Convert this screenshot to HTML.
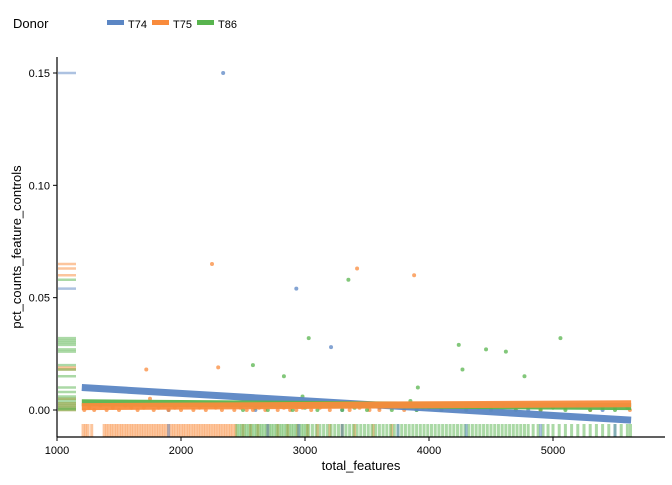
<!DOCTYPE html>
<html><head><meta charset="utf-8">
<style>
body{margin:0;background:#fff;font-family:"Liberation Sans",Arial,sans-serif;}
svg text{font-family:"Liberation Sans",Arial,sans-serif;}
</style></head>
<body>
<svg id="chart" width="672" height="480" xmlns="http://www.w3.org/2000/svg">
<g id="legend">
 <text x="13" y="28" font-size="13" fill="#000">Donor</text>
 <rect x="107" y="20" width="17" height="5" fill="#5b86c4"/>
 <text x="128" y="28" font-size="11">T74</text>
 <rect x="152" y="20" width="17" height="5" fill="#f98b3c"/>
 <text x="173" y="28" font-size="11">T75</text>
 <rect x="197" y="20" width="17" height="5" fill="#58b44e"/>
 <text x="218" y="28" font-size="11">T86</text>
</g>
<g id="rugs"></g>
<g id="marks"></g>
<g id="axes"></g>
</svg>
<script>
const xTicks=[1000,2000,3000,4000,5000];
const yTicks=[0,0.05,0.10,0.15];
const yTickLabels=["0.00","0.05","0.10","0.15"];
const t74X=[2340,2930,3210,1900,2600,3300,4100,4800,5400,3600,3900,4300];
const t74Y=[0.150,0.054,0.028,0.0,0.0,0.0,0.0,0.0,0.0,0.001,0,0.001];
const t75X=[2250,3420,3880,1720,2300,1750,1220,1260,1300,1350,1400,1450,1500,1550,1600,1650,1700,1780,1820,1860,1900,1950,2000,2050,2100,2150,2200,2280,2330,2380,2430,2480,2530,2580,2630,2680,2730,2780,2830,2880,2930,2980,3050,3120,3200,3280,3360,3440,3520,3600,3700,3800,3950,4100,4300,4500,4700,4900,5100,5300,5500,5620];
const t75Y=[0.065,0.063,0.060,0.018,0.019,0.005,0,0.001,0,0.002,0,0.001,0,0.002,0.001,0,0.001,0,0.001,0.002,0,0.001,0,0.002,0,0.001,0,0.001,0,0.002,0,0.001,0,0,0.001,0,0.002,0,0.001,0,0,0.001,0,0.001,0,0.002,0,0.001,0,0,0.001,0,0.001,0,0,0.001,0,0,0.001,0,0.001,0];
const t86X=[3350,3030,5060,4240,4460,4620,2580,4270,2830,4770,3910,2980,3850,2500,2600,2700,2800,2900,3000,3100,3200,3300,3400,3500,3600,3700,3800,3900,4000,4100,4200,4300,4400,4500,4600,4700,4800,4900,5000,5100,5200,5300,5400,5500,5600];
const t86Y=[0.058,0.032,0.032,0.029,0.027,0.026,0.020,0.018,0.015,0.015,0.010,0.006,0.004,0,0.001,0,0.002,0,0.001,0,0.002,0,0.001,0,0.002,0,0.001,0,0.001,0,0.002,0,0.001,0,0.002,0,0.001,0,0.001,0,0.002,0,0.001,0,0.001];
const t74Fit=[[1200,0.010],[5630,-0.0045]];
const t75Fit=[[1200,0.0015],[5630,0.0028]];
const t86Fit=[[1200,0.0032],[5630,0.0015]];
const t75RugX=[1210,1230,1250,1280,1380,1400,1420,1440,1460,1480,1500,1520,1540,1560,1580,1600,1620,1640,1660,1680,1700,1720,1740,1760,1780,1800,1820,1840,1860,1880,1900,1920,1940,1960,1980,2000,2020,2040,2060,2080,2100,2120,2140,2160,2180,2200,2220,2240,2260,2280,2300,2320,2340,2360,2380,2400,2420,2440,2500,2560,2620,2700,2780,2860,2940,3020,3100,3200,3300,3400,3550,3700];
const t86RugX=[2450,2470,2490,2510,2530,2550,2570,2590,2610,2630,2650,2670,2690,2710,2730,2750,2770,2790,2810,2830,2850,2870,2890,2910,2930,2950,2970,2990,3010,3030,3060,3090,3120,3150,3180,3210,3240,3270,3300,3330,3360,3390,3420,3450,3480,3510,3540,3570,3600,3630,3660,3690,3720,3750,3780,3810,3840,3870,3900,3930,3960,3990,4020,4050,4080,4110,4140,4170,4200,4230,4260,4290,4320,4350,4380,4410,4440,4470,4500,4530,4560,4590,4620,4650,4680,4710,4740,4770,4800,4840,4880,4920,4960,5000,5050,5100,5150,5200,5250,5300,5350,5400,5450,5500,5550,5600,5625];
const t74RugX=[1900,2700,2950,3300,3750,4300,4900,5500];
const t74RugY=[0.150,0.054];
const t75RugY=[0.065,0.063,0.060,0.019,0.018,0.005,0.003,0.002,0.001,0];
const t86RugY=[0.058,0.032,0.031,0.030,0.029,0.027,0.026,0.020,0.018,0.015,0.010,0.008,0.006,0.005,0.004,0.003,0.002,0.001,0.0005,0];
const C={t74:"#5b86c4",t75:"#f98b3c",t86:"#58b44e"};
const NS="http://www.w3.org/2000/svg";
function xs(v){return 57+(v-1000)*0.124;}
function ys(v){return 410-v*2246.7;}
function mk(tag,attrs,parent){const e=document.createElementNS(NS,tag);for(const k in attrs)e.setAttribute(k,attrs[k]);parent.appendChild(e);return e;}
const rugs=document.getElementById('rugs'),marks=document.getElementById('marks'),axes=document.getElementById('axes');
function rugXs(arr,col){arr.forEach(v=>{const l=mk('line',{x1:xs(v),x2:xs(v),y1:424,y2:437,stroke:col,'stroke-width':3,'stroke-opacity':0.5},rugs);

});}
function rugYs(arr,col){arr.forEach(v=>{const l=mk('line',{x1:58,x2:76,y1:ys(v),y2:ys(v),stroke:col,'stroke-width':2.5,'stroke-opacity':0.5},rugs);

});}
rugXs(t75RugX,C.t75);rugXs(t86RugX,C.t86);rugXs(t74RugX,C.t74);
rugYs(t74RugY,C.t74);rugYs(t75RugY,C.t75);rugYs(t86RugY,C.t86);
function fit(f,col,name){const l=mk('line',{x1:xs(f[0][0]),y1:ys(f[0][1]),x2:xs(f[1][0]),y2:ys(f[1][1]),stroke:col,'stroke-width':7,'stroke-opacity':0.95},marks);

}
function pts(X,Y,col,name){X.forEach((v,i)=>{const c=mk('circle',{cx:xs(v),cy:ys(Y[i]),r:2,fill:col,'fill-opacity':0.75},marks);

});}
pts(t74X,t74Y,C.t74,'point-t74');pts(t75X,t75Y,C.t75,'point-t75');pts(t86X,t86Y,C.t86,'point-t86');
fit(t74Fit,C.t74,'fit-line-t74');fit(t86Fit,C.t86,'fit-line-t86');fit(t75Fit,C.t75,'fit-line-t75');
mk('line',{x1:57,x2:57,y1:57,y2:437,stroke:'#000','stroke-width':1.2},axes);
mk('line',{x1:57,x2:665,y1:437,y2:437,stroke:'#000','stroke-width':1.2},axes);
xTicks.forEach(v=>{mk('line',{x1:xs(v),x2:xs(v),y1:437,y2:441,stroke:'#000'},axes);
const t=mk('text',{x:xs(v),y:454,'font-size':11,'text-anchor':'middle',fill:'#000'},axes);t.textContent=v;

});
yTicks.forEach((v,i)=>{mk('line',{x1:53,x2:57,y1:ys(v),y2:ys(v),stroke:'#000'},axes);
const t=mk('text',{x:50,y:ys(v)+4,'font-size':11,'text-anchor':'end',fill:'#000'},axes);t.textContent=yTickLabels[i];

});
const xt=mk('text',{x:361,y:470,'font-size':13,'text-anchor':'middle'},axes);xt.textContent='total_features';


const yt=mk('text',{x:0,y:0,'font-size':13,'text-anchor':'middle',transform:'translate(21,247) rotate(-90)'},axes);yt.textContent='pct_counts_feature_controls';


</script>
</body></html>
